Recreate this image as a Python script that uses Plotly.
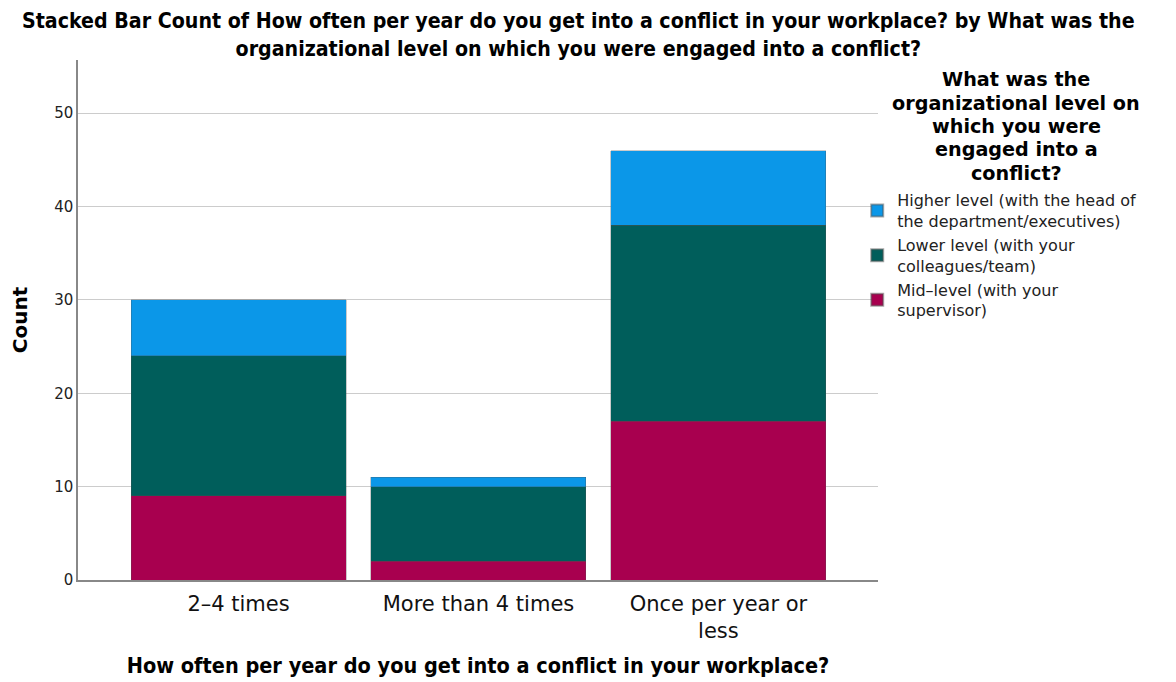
import plotly.graph_objects as go

categories = ["2–4 times", "More than 4 times", "Once per year or<br>less"]
series_names = [
    "Mid–level (with your<br>supervisor)",
    "Lower level (with your<br>colleagues/team)",
    "Higher level (with the head of<br>the department/executives)",
]
mid_level = [9, 2, 17]
lower_level = [15, 8, 21]
higher_level = [6, 1, 8]
colors = ["#a8004f", "#005e5b", "#0b97e8"]
y_ticks = [0, 10, 20, 30, 40, 50]
title_text = ("Stacked Bar Count of How often per year do you get into a conflict in your workplace? by What was the"
              "<br>organizational level on which you were engaged into a conflict?")
legend_title_lines = [
    "What was the", "organizational level on", "which you were", "engaged into a", "conflict?",
]

cond = "DejaVu Sans Condensed"
reg = "DejaVu Sans"

fig = go.Figure()
for name, vals, col in zip(series_names, [mid_level, lower_level, higher_level], colors):
    fig.add_trace(go.Bar(
        x=categories, y=vals, name=name,
        marker=dict(color=col, line=dict(color="rgba(80,80,80,0.5)", width=0.6)),
    ))

# paper units: plot area 520 px tall, bottom at screen y 580
annotations = [dict(
    text=title_text, xref="paper", yref="paper",
    x=0.625, y=(580 - 34.5) / 520, xanchor="center", yanchor="middle",
    showarrow=False, align="center",
    font=dict(family=cond, size=21.2, color="black", weight="bold"),
)]
for i, line in enumerate(legend_title_lines):
    sy = 80 + 23.3 * i
    annotations.append(dict(
        text=line, xref="paper", yref="paper",
        x=1.1725, y=(580 - sy) / 520, xanchor="center", yanchor="middle",
        showarrow=False, font=dict(family=reg, size=19.2, color="black", weight="bold"),
    ))

fig.update_layout(
    barmode="stack",
    bargap=0.104,
    width=1168, height=674,
    margin=dict(l=70, r=298, t=52, b=102),
    plot_bgcolor="white", paper_bgcolor="white",
    xaxis=dict(
        range=[-0.669, 2.665], automargin=False,
        showline=True, linecolor="#888888", linewidth=1.5,
        ticks="", ticklabelstandoff=4,
        tickfont=dict(family=reg, size=21, color="#111"),
        title=dict(text="How often per year do you get into a conflict in your workplace?",
                   font=dict(family=cond, size=21.5, color="black", weight="bold"), standoff=16),
    ),
    yaxis=dict(
        range=[0, 55.7], tickvals=y_ticks, automargin=False,
        showline=True, linecolor="#888888", linewidth=1.5,
        showgrid=True, gridcolor="#cccccc", gridwidth=1,
        zeroline=False, ticks="",
        tickfont=dict(family=reg, size=15, color="#222"),
        title=dict(text="Count", font=dict(family=reg, size=20, color="black", weight="bold"), standoff=21),
    ),
    legend=dict(
        x=0.974, xanchor="left", y=0.763, yanchor="top",
        traceorder="reversed",
        font=dict(family=reg, size=16, color="#222"),
        tracegroupgap=0, itemsizing="constant",
        bgcolor="rgba(0,0,0,0)",
    ),
    annotations=annotations,
)

fig.write_html("out.html")
